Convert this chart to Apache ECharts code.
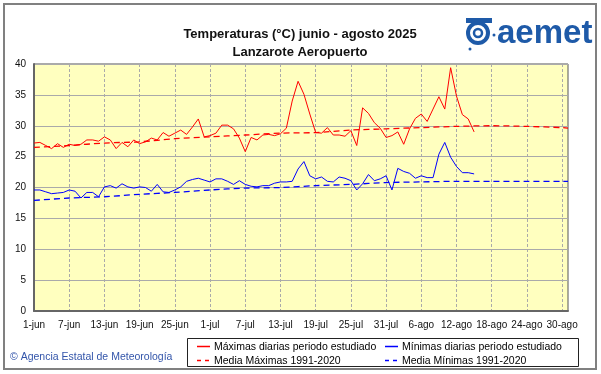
<!DOCTYPE html>
<html>
<head>
<meta charset="utf-8">
<script src="https://cdn.jsdelivr.net/npm/echarts@6/dist/echarts.min.js"></script>
<style>
html,body{margin:0;padding:0;background:#fff;}
#c{width:601px;height:374px;}
</style>
</head>
<body>
<div id="c"></div>
<script>
// ---- data ----
var months = [['jun', 30], ['jul', 31], ['ago', 31]];
var days = [];
months.forEach(function (m) { for (var d = 1; d <= m[1]; d++) days.push(d + '-' + m[0]); });

var yTicks = [0, 5, 10, 15, 20, 25, 30, 35, 40];

// daily maxima, 1-jun .. 15-ago
var maxDaily = [27.2, 27.3, 26.8, 26.3, 27.1, 26.5, 27.0, 26.8, 27.0, 27.7,
  27.7, 27.5, 28.2, 27.7, 26.3, 27.3, 26.6, 27.7, 27.1, 27.4,
  28.0, 27.7, 28.9, 28.3, 28.8, 29.3, 28.6, 29.8, 31.1, 28.2,
  28.4, 28.8, 30.1, 30.1, 29.5, 28.0, 25.8, 28.1, 27.7, 28.5,
  28.6, 28.4, 28.7, 29.6, 34.0, 37.2, 35.1, 31.9, 28.9, 28.8,
  29.7, 28.5, 28.5, 28.3, 29.2, 26.8, 32.9, 32.0, 30.5, 29.6,
  28.1, 28.4, 29.0, 27.0, 29.5, 31.2, 31.9, 30.7, 32.7, 34.7,
  32.7, 39.4, 34.8, 31.8, 31.1, 29.0];

// daily minima, 1-jun .. 15-ago
var minDaily = [19.6, 19.6, 19.3, 19.0, 19.1, 19.2, 19.6, 19.4, 18.3, 19.2,
  19.2, 18.5, 20.1, 20.3, 19.9, 20.6, 20.1, 19.9, 20.1, 20.0,
  19.4, 20.5, 19.3, 19.2, 19.6, 20.1, 21.0, 21.3, 21.5, 21.2,
  20.9, 21.4, 21.4, 21.0, 20.5, 21.1, 20.5, 20.2, 20.1, 20.3,
  20.3, 20.7, 20.9, 20.9, 21.0, 23.0, 24.2, 21.9, 21.4, 21.7,
  21.0, 20.9, 21.7, 21.5, 21.1, 19.6, 20.6, 22.1, 21.1, 21.4,
  21.9, 19.6, 23.1, 22.6, 22.3, 21.5, 21.9, 21.6, 21.6, 25.4,
  27.3, 24.9, 23.4, 22.4, 22.4, 22.2];

// 1991-2020 means read at selected days
var meanDays = ['1-jun', '7-jun', '13-jun', '19-jun', '25-jun', '1-jul', '7-jul', '13-jul',
  '19-jul', '25-jul', '31-jul', '6-ago', '12-ago', '18-ago', '24-ago', '30-ago', '31-ago'];
var meanMax = [26.5, 26.8, 27.2, 27.4, 27.9, 28.2, 28.5, 28.8, 28.9, 29.3, 29.5, 29.7, 29.9, 30.0, 29.9, 29.7, 29.6];
var meanMin = [17.9, 18.3, 18.5, 18.9, 19.2, 19.6, 19.9, 20.0, 20.3, 20.5, 20.8, 20.9, 21.0, 21.0, 21.0, 21.0, 21.0];

var names = ['Máximas diarias periodo estudiado', 'Media Máximas 1991-2020',
  'Mínimas diarias periodo estudiado', 'Media Mínimas 1991-2020'];
var colors = ['#ff0000', '#ff0000', '#0000ff', '#0000ff'];
var dashed = [false, true, false, true];

function pairs(cats, vals) { return cats.map(function (c, i) { return [c, vals[i]]; }); }

var font = 'Liberation Sans, Arial, sans-serif';

// legend drawn as graphic (2 columns x 2 rows)
var legendGraphics = [];
var legendPos = [[197, 346], [197, 360], [385, 346], [385, 360]];
names.forEach(function (n, i) {
  var p = legendPos[i];
  legendGraphics.push({
    type: 'line', silent: true,
    shape: { x1: p[0], y1: p[1] + 0.5, x2: p[0] + 13, y2: p[1] + 0.5 },
    style: { stroke: colors[i], lineWidth: dashed[i] ? 1.3 : 1.5, lineDash: dashed[i] ? [4, 4] : null }
  });
  legendGraphics.push({
    type: 'text', silent: true, x: p[0] + 17, y: p[1] + 1,
    style: { text: n, fill: '#000', font: '10.5px ' + font, textVerticalAlign: 'middle', verticalAlign: 'middle' }
  });
});

var chart = echarts.init(document.getElementById('c'), null, { renderer: 'canvas' });
chart.setOption({
  animation: false,
  backgroundColor: '#ffffff',
  textStyle: { fontFamily: font },
  title: {
    text: 'Temperaturas (°C) junio - agosto 2025\nLanzarote Aeropuerto',
    left: 295, top: 20, textAlign: 'center',
    textStyle: { fontSize: 13, fontWeight: 'bold', color: '#111', lineHeight: 18, fontFamily: font }
  },
  grid: {
    left: 34, top: 64, right: 33, bottom: 63,
    show: true, backgroundColor: '#FFFFBF', borderColor: '#555', borderWidth: 1
  },
  xAxis: {
    type: 'category', data: days, boundaryGap: false,
    axisLine: { lineStyle: { color: '#666', width: 2 } },
    axisTick: { show: false },
    axisLabel: { interval: 5, fontSize: 10, color: '#111', margin: 9, fontFamily: font },
    splitLine: { show: true, interval: 5, lineStyle: { color: '#aaa', type: [3, 2], width: 1 } }
  },
  yAxis: {
    type: 'value', min: yTicks[0], max: yTicks[yTicks.length - 1], interval: 5,
    axisLine: { show: true, lineStyle: { color: '#666', width: 2 } },
    axisTick: { show: false },
    axisLabel: { fontSize: 10, color: '#111', margin: 8, fontFamily: font },
    splitLine: { show: true, lineStyle: { color: '#aaa', width: 1 } }
  },
  series: [
    { name: names[0], type: 'line', data: maxDaily, symbol: 'none', lineStyle: { color: colors[0], width: 1 } },
    { name: names[1], type: 'line', data: pairs(meanDays, meanMax), symbol: 'none', smooth: 0.3, lineStyle: { color: colors[1], width: 1.3, type: [6, 4] } },
    { name: names[2], type: 'line', data: minDaily, symbol: 'none', lineStyle: { color: colors[2], width: 1 } },
    { name: names[3], type: 'line', data: pairs(meanDays, meanMin), symbol: 'none', smooth: 0.3, lineStyle: { color: colors[3], width: 1.3, type: [6, 4] } }
  ],
  graphic: [
    { type: 'rect', shape: { x: 4, y: 4, width: 592, height: 365 }, style: { fill: 'none', stroke: '#808080', lineWidth: 2 }, silent: true, z: -1 },
    { type: 'rect', shape: { x: 187.5, y: 338.5, width: 391, height: 28 }, style: { fill: '#fff', stroke: '#222', lineWidth: 1 }, silent: true, z: -1 },
    { type: 'text', x: 10, y: 357, style: { text: '© Agencia Estatal de Meteorología', fill: '#3355aa', font: '10.5px ' + font, verticalAlign: 'middle' } },
    // aemet logo
    { type: 'text', x: 497, y: 17, style: { text: 'aemet', fill: '#1e5aa8', font: 'bold 33px ' + font } },
    { type: 'circle', shape: { cx: 478, cy: 33, r: 10 }, style: { fill: 'none', stroke: '#1e5aa8', lineWidth: 4 } },
    { type: 'circle', shape: { cx: 478, cy: 33, r: 4 }, style: { fill: 'none', stroke: '#1e5aa8', lineWidth: 2.5 } },
    { type: 'rect', shape: { x: 466, y: 18, width: 26, height: 5 }, style: { fill: '#1e5aa8' } },
    { type: 'circle', shape: { cx: 470, cy: 49, r: 1.5 }, style: { fill: '#1e5aa8' } },
    { type: 'circle', shape: { cx: 494, cy: 35, r: 1.5 }, style: { fill: '#1e5aa8' } }
  ].concat(legendGraphics)
});
</script>
</body>
</html>
